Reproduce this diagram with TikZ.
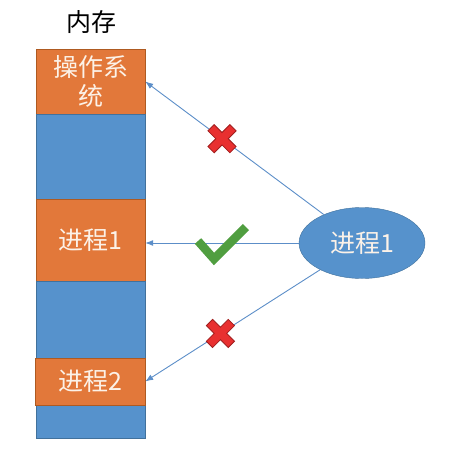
\documentclass[tikz,border=0pt]{standalone}
\usepackage{fontspec}
\setmainfont{Noto Sans CJK SC}
\usetikzlibrary{arrows.meta,shapes.geometric}
\definecolor{memorange}{RGB}{226,120,58}
\definecolor{orangeedge}{RGB}{174,90,33}
\definecolor{memblue}{RGB}{86,146,204}
\definecolor{blueedge}{RGB}{65,113,156}
\definecolor{arrowblue}{RGB}{92,142,200}
\definecolor{lighttext}{RGB}{252,242,232}
\definecolor{markred}{RGB}{232,48,48}
\definecolor{markedge}{RGB}{160,30,30}
\definecolor{markgreen}{RGB}{80,158,64}
\tikzset{usedbox/.style = {shape=rectangle,draw=orangeedge,fill=memorange,text=lighttext,minimum width=109pt,align=center,inner sep=0pt}}
\tikzset{freebox/.style = {shape=rectangle,draw=blueedge,fill=memblue,minimum width=109pt,inner sep=0pt}}
\tikzset{edge/.style = {->,> = {Latex[length=8pt,width=6pt]},line width=0.9pt,draw=arrowblue}}
\tikzset{nomark/.pic = {\filldraw[fill=markred,draw=markedge,line width=0.8pt,rotate=45]
  (-4.4,-15.5) -- (4.4,-15.5) -- (4.4,-4.4) -- (15.5,-4.4) -- (15.5,4.4) -- (4.4,4.4) -- (4.4,15.5)
  -- (-4.4,15.5) -- (-4.4,4.4) -- (-15.5,4.4) -- (-15.5,-4.4) -- (-4.4,-4.4) -- cycle;}}
\tikzset{okmark/.pic = {\draw[markgreen,line width=8.5pt,line join=miter] (-24,-2) -- (-8,16) -- (24,-16);}}

\begin{document}
\begin{tikzpicture}[x=1pt,y=-1pt,font=\fontsize{25}{29}\selectfont]
\useasboundingbox (0,0) rectangle (463,450);

\node (title) at (91,22) {内存};

\node[usedbox,minimum height=65pt] (os) at (90.5,81.5) {操作系\\统};
\node[freebox,minimum height=85pt] (gapa) at (90.5,156.5) {};
\node[usedbox,minimum height=82pt] (pa) at (90.5,240) {进程1};
\node[freebox,minimum height=77pt] (gapb) at (90.5,319.5) {};
\node[freebox,minimum height=33pt] (gapc) at (90.5,421.5) {};
\node[usedbox,minimum height=47pt,minimum width=110pt] (pb) at (90,381.5) {进程2};

\node[shape=ellipse,draw=blueedge,fill=memblue,text=lighttext,minimum width=126pt,minimum height=71pt,inner sep=0pt] (proc) at (362,243) {进程1};

\draw[edge] (proc) -- (os.east) coordinate[pos=0.57] (badtop);
\draw[edge] (proc) -- (proc.west -| pa.east) coordinate[pos=0.5] (good);
\draw[edge] (proc) -- (pb.east) coordinate[pos=0.57] (badbottom);

\pic at (badtop) {nomark};
\pic at (badbottom) {nomark};
\pic at (good) {okmark};

\end{tikzpicture}
\end{document}
